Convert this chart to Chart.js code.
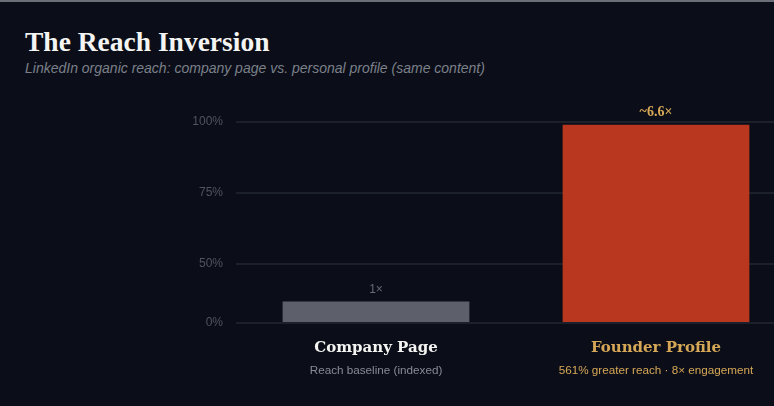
<!DOCTYPE html>
<html>
<head>
<meta charset="utf-8">
<script src="https://cdn.jsdelivr.net/npm/chart.js@4.4.1/dist/chart.umd.min.js"></script>
<style>
  html, body { margin: 0; padding: 0; }
  body {
    width: 774px; height: 406px; overflow: hidden;
    background: #0b0e18; border-top: 2px solid #6a6e77; box-sizing: border-box;
    position: relative;
  }
  h1 {
    position: absolute; left: 25px; top: 24px; margin: 0;
    font: bold 27.5px "Liberation Serif", serif; color: #f4f4f2;
  }
  .sub {
    position: absolute; left: 25px; top: 58px; margin: 0;
    font: italic 14px "Liberation Sans", Arial, sans-serif; color: #7b808a;
  }
  #wrap { position: absolute; left: 0; top: 78px; width: 800px; height: 326px; }
</style>
</head>
<body>
<h1>The Reach Inversion</h1>
<p class="sub">LinkedIn organic reach: company page vs. personal profile (same content)</p>
<div id="wrap"><canvas id="reachChart"></canvas></div>
<script>
// Chart data
const categories = ['Company Page', 'Founder Profile'];
const reachValues = [18, 99];
const valueLabels = ['1×', '~6.6×'];
const subLabels = ['Reach baseline (indexed)', '561% greater reach · 8× engagement'];
const yTicks = [0, 50, 75, 100];

const GOLD = '#d6a757';

// y axis squeezes 0-50% into the bottom part, 50-100% is linear above it
const BREAK_VALUE = 50;
const BREAK_FRAC = 0.2955;

class SplitLinearScale extends Chart.LinearScale {
    getPixelForValue(value) {
        let d;
        if (value <= BREAK_VALUE) {
            d = value / BREAK_VALUE * BREAK_FRAC;
        } else {
            d = BREAK_FRAC + (value - BREAK_VALUE) / (100 - BREAK_VALUE) * (1 - BREAK_FRAC);
        }
        return this.getPixelForDecimal(d);
    }
    getValueForPixel(pixel) {
        const d = this.getDecimalForPixel(pixel);
        if (d <= BREAK_FRAC) return d / BREAK_FRAC * BREAK_VALUE;
        return BREAK_VALUE + (d - BREAK_FRAC) / (1 - BREAK_FRAC) * (100 - BREAK_VALUE);
    }
}
SplitLinearScale.id = 'splitLinear';
SplitLinearScale.defaults = Chart.LinearScale.defaults;
Chart.register(SplitLinearScale);

// Labels above bars and the second line under each category
const barText = {
    id: 'barText',
    afterDatasetsDraw(chart) {
        const ctx = chart.ctx;
        const meta = chart.getDatasetMeta(0);
        ctx.save();
        ctx.textAlign = 'center';
        meta.data.forEach((bar, i) => {
            ctx.textBaseline = 'alphabetic';
            if (i === 0) {
                ctx.font = '12px "Liberation Sans", Arial, sans-serif';
                ctx.fillStyle = '#666a76';
                ctx.fillText(valueLabels[i], bar.x, bar.y - 9);
            } else {
                ctx.font = 'bold 14px "Liberation Serif", serif';
                ctx.fillStyle = GOLD;
                ctx.fillText(valueLabels[i], bar.x, bar.y - 9);
            }

            ctx.font = '11.7px "Liberation Sans", Arial, sans-serif';
            ctx.fillStyle = i === 0 ? '#868b96' : GOLD;
            ctx.textBaseline = 'middle';
            ctx.fillText(subLabels[i], bar.x, chart.chartArea.bottom + 48);
        });
        ctx.restore();
    }
};

const ctx = document.getElementById('reachChart').getContext('2d');
const reachChart = new Chart(ctx, {
    type: 'bar',
    data: {
        labels: categories,
        datasets: [{
            data: reachValues,
            backgroundColor: ['#5d606a', '#b9361f'],
            borderWidth: 0,
            categoryPercentage: 1,
            barPercentage: 0.667
        }]
    },
    options: {
        responsive: true,
        maintainAspectRatio: false,
        animation: false,
        layout: {
            padding: { left: 176, right: 4, top: 42, bottom: 33 }
        },
        plugins: {
            legend: { display: false },
            tooltip: { enabled: false }
        },
        scales: {
            x: {
                grid: { display: false, drawTicks: false },
                border: { display: false },
                ticks: {
                    padding: 16,
                    color: (c) => c.index === 1 ? GOLD : '#f4f4f2',
                    font: { family: '"DejaVu Serif", serif', size: 15, weight: 'bold' }
                }
            },
            y: {
                type: 'splitLinear',
                min: 0,
                max: 100,
                afterBuildTicks: (scale) => {
                    scale.ticks = yTicks.map(v => ({ value: v }));
                },
                afterFit: (scale) => { scale.width = 60; },
                grid: { color: '#1c202b', lineWidth: 2, drawTicks: false },
                border: { display: false },
                ticks: {
                    padding: 13,
                    color: '#50545f',
                    font: { family: '"Liberation Sans", Arial, sans-serif', size: 12 },
                    callback: (v) => v + '%'
                }
            }
        }
    },
    plugins: [barText]
});
</script>
</body>
</html>
